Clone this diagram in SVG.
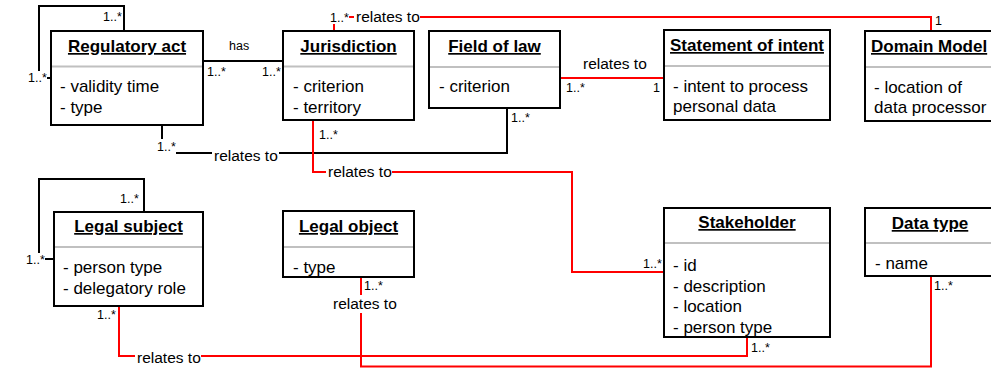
<svg xmlns="http://www.w3.org/2000/svg" width="991" height="368" viewBox="0 0 991 368">
<style>
.box{fill:#fff;stroke:#000;stroke-width:2}
.div{stroke:#c0c0c0;stroke-width:2}
.title{font-family:"Liberation Sans",Arial,sans-serif;font-size:17px;font-weight:bold;text-decoration:underline;text-anchor:middle;fill:#000}
.attr{font-family:"Liberation Sans",Arial,sans-serif;font-size:17px;fill:#000}
.lbl{font-family:"Liberation Sans",Arial,sans-serif;font-size:12.5px;fill:#000}
.rel{font-family:"Liberation Sans",Arial,sans-serif;font-size:15.5px;fill:#000}
.bg{fill:#fff}
.blk{fill:none;stroke:#000;stroke-width:2}
.red{fill:none;stroke:#f00;stroke-width:2}
</style>
<g id="connectors">
<path class="blk" d="M50,78 H39 V6 H124 V31"/>
<path class="blk" d="M203,61 H283"/>
<path class="blk" d="M162,125 V153 H507 V108"/>
<path class="red" d="M334,31 V17 H931 V31"/>
<path class="red" d="M560,78 H663"/>
<path class="red" d="M313,120 V172 H572 V272 H663"/>
<path class="blk" d="M54,259 H39 V179 H144 V212"/>
<path class="red" d="M119,306 V356 H747 V337"/>
<path class="red" d="M361,277 V366.5 H931 V276"/>
<rect class="bg" x="27" y="71" width="20" height="13"/>
<rect class="bg" x="156" y="139" width="20" height="15"/>
<rect class="bg" x="212" y="148" width="67" height="16"/>
<rect class="bg" x="329" y="10" width="20" height="14"/>
<rect class="bg" x="354" y="9" width="66" height="16"/>
<rect class="bg" x="326" y="164" width="66" height="16"/>
<rect class="bg" x="25" y="253" width="20" height="13"/>
<rect class="bg" x="135" y="350" width="66" height="16"/>
<rect class="bg" x="331" y="295" width="66" height="18"/>
<text class="lbl" x="103" y="21">1..*</text>
<text class="lbl" x="28" y="82">1..*</text>
<text class="lbl" x="229" y="50">has</text>
<text class="lbl" x="207" y="76">1..*</text>
<text class="lbl" x="262" y="76">1..*</text>
<text class="lbl" x="157" y="151">1..*</text>
<text class="rel" x="214" y="161">relates to</text>
<text class="lbl" x="330" y="22">1..*</text>
<text class="rel" x="356" y="22">relates to</text>
<text class="lbl" x="935" y="25">1</text>
<text class="rel" x="583" y="69">relates to</text>
<text class="lbl" x="566" y="92">1..*</text>
<text class="lbl" x="653" y="92">1</text>
<text class="lbl" x="511" y="122">1..*</text>
<text class="lbl" x="319" y="139">1..*</text>
<text class="rel" x="328" y="177">relates to</text>
<text class="lbl" x="643" y="268">1..*</text>
<text class="lbl" x="120" y="203">1..*</text>
<text class="lbl" x="26" y="264">1..*</text>
<text class="lbl" x="97" y="319">1..*</text>
<text class="rel" x="137" y="363">relates to</text>
<text class="lbl" x="364" y="290">1..*</text>
<text class="rel" x="333" y="309">relates to</text>
<text class="lbl" x="751" y="352">1..*</text>
<text class="lbl" x="934" y="290">1..*</text>
</g>
<g id="regulatory-act">
<rect class="box" x="51" y="31" width="152" height="94"/>
<line class="div" x1="52" y1="66.5" x2="202" y2="66.5"/>
<text class="title" x="127" y="52">Regulatory act</text>
<text class="attr" x="60" y="92">- validity time</text>
<text class="attr" x="60" y="113">- type</text>
</g>
<g id="jurisdiction">
<rect class="box" x="283" y="31" width="131" height="89"/>
<line class="div" x1="284" y1="66.5" x2="413" y2="66.5"/>
<text class="title" x="348.5" y="52">Jurisdiction</text>
<text class="attr" x="293" y="92">- criterion</text>
<text class="attr" x="293" y="113">- territory</text>
</g>
<g id="field-of-law">
<rect class="box" x="429" y="31" width="131" height="77"/>
<line class="div" x1="430" y1="67" x2="559" y2="67"/>
<text class="title" x="494.5" y="52">Field of law</text>
<text class="attr" x="439" y="92">- criterion</text>
</g>
<g id="statement-of-intent">
<rect class="box" x="664" y="30" width="166" height="90"/>
<line class="div" x1="665" y1="66" x2="829" y2="66"/>
<text class="title" x="747" y="51">Statement of intent</text>
<text class="attr" x="673" y="92">- intent to process</text>
<text class="attr" x="673" y="112">personal data</text>
</g>
<g id="domain-model">
<rect class="box" x="865" y="31" width="140" height="90"/>
<line class="div" x1="866" y1="67" x2="1000" y2="67"/>
<text class="title" x="871" y="52" style="text-anchor:start">Domain Model</text>
<text class="attr" x="874" y="93">- location of</text>
<text class="attr" x="874" y="113">data processor</text>
</g>
<g id="legal-subject">
<rect class="box" x="54" y="212" width="149" height="94"/>
<line class="div" x1="55" y1="247" x2="202" y2="247"/>
<text class="title" x="128.5" y="232">Legal subject</text>
<text class="attr" x="63" y="273">- person type</text>
<text class="attr" x="63" y="294">- delegatory role</text>
</g>
<g id="legal-object">
<rect class="box" x="283" y="211" width="131" height="66"/>
<line class="div" x1="284" y1="247" x2="413" y2="247"/>
<text class="title" x="348.5" y="232">Legal object</text>
<text class="attr" x="293" y="273">- type</text>
</g>
<g id="stakeholder">
<rect class="box" x="664" y="208" width="166" height="129"/>
<line class="div" x1="665" y1="243" x2="829" y2="243"/>
<text class="title" x="747" y="228">Stakeholder</text>
<text class="attr" x="673" y="271">- id</text>
<text class="attr" x="673" y="292">- description</text>
<text class="attr" x="673" y="312">- location</text>
<text class="attr" x="673" y="333">- person type</text>
</g>
<g id="data-type">
<rect class="box" x="865" y="208" width="140" height="68"/>
<line class="div" x1="866" y1="243" x2="1000" y2="243"/>
<text class="title" x="930" y="229">Data type</text>
<text class="attr" x="875" y="269">- name</text>
</g>
</svg>
